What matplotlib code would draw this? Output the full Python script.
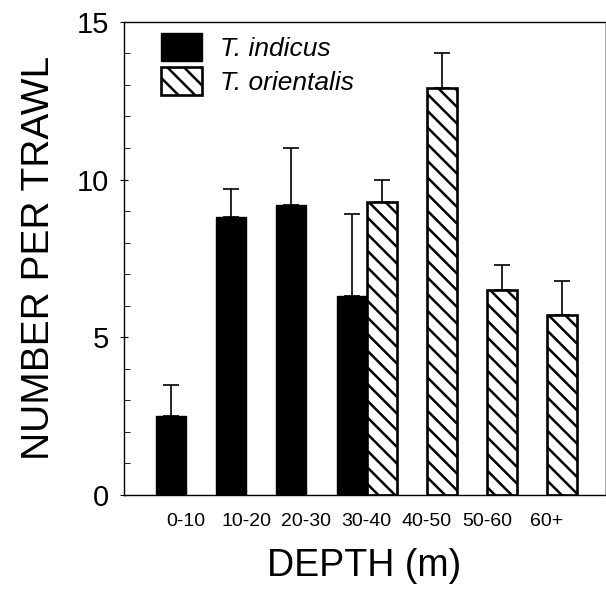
import numpy as np
import matplotlib.pyplot as plt

plt.rcParams['font.family'] = ['Liberation Sans', 'DejaVu Sans']
plt.rcParams['hatch.linewidth'] = 1.8
plt.rcParams['hatch.color'] = 'black'

depths = ['0-10', '10-20', '20-30', '30-40', '40-50', '50-60', '60+']

# T. indicus only caught down to 40 m
indicus_x = [0, 1, 2, 3]
indicus_mean = [2.5, 8.8, 9.2, 6.3]
indicus_err = [1.0, 0.9, 1.8, 2.6]

# T. orientalis from 30 m and deeper
orientalis_x = [3, 4, 5, 6]
orientalis_mean = [9.3, 12.9, 6.5, 5.7]
orientalis_err = [0.7, 1.1, 0.8, 1.1]

fig = plt.figure(figsize=(6.06, 5.90), dpi=100)
ax = fig.add_axes([0.205, 0.161, 0.793, 0.802])

w = 0.5
ax.bar(np.array(indicus_x) - w / 2, indicus_mean, width=w, color='black',
       edgecolor='black', linewidth=1.0, label='T. indicus', zorder=2)
ax.bar(np.array(orientalis_x) + w / 2, orientalis_mean, width=w, color='white',
       edgecolor='black', linewidth=1.9, hatch='\\\\', label='T. orientalis', zorder=2)

# upper error bars only
ax.errorbar(np.array(indicus_x) - w / 2, indicus_mean,
            yerr=[np.zeros(len(indicus_err)), indicus_err],
            fmt='none', ecolor='black', elinewidth=1.2, capsize=5.5, capthick=1.2, zorder=1)
ax.errorbar(np.array(orientalis_x) + w / 2, orientalis_mean,
            yerr=[np.zeros(len(orientalis_err)), orientalis_err],
            fmt='none', ecolor='black', elinewidth=1.2, capsize=5.5, capthick=1.2, zorder=1)

ax.set_xlim(-1.03, 6.96)
ax.set_ylim(0, 15)
ax.set_yticks([0, 5, 10, 15])
ax.set_yticks(np.arange(0, 16, 1), minor=True)
ax.set_xticks(range(len(depths)))
ax.set_xticklabels(depths, fontsize=14)
ax.tick_params(axis='y', which='major', labelsize=21, direction='inout', length=6, pad=8)
ax.tick_params(axis='y', which='minor', direction='in', length=4)
ax.tick_params(axis='x', direction='in', length=4, pad=13)

ax.set_xlabel('DEPTH (m)', fontsize=27, labelpad=13)
ax.set_ylabel('NUMBER PER TRAWL', fontsize=28, labelpad=14)

for side in ['left', 'bottom', 'top']:
    ax.spines[side].set_linewidth(1.0)
ax.spines['right'].set_color('0.7')
ax.spines['right'].set_linewidth(0.8)

leg = ax.legend(loc='upper left', bbox_to_anchor=(0.038, 1.015), frameon=False,
                prop={'size': 19, 'style': 'italic'}, handlelength=1.55,
                handleheight=1.25, handletextpad=0.7, labelspacing=0.22,
                borderaxespad=0.3)

fig.savefig('out.png', dpi=100)
